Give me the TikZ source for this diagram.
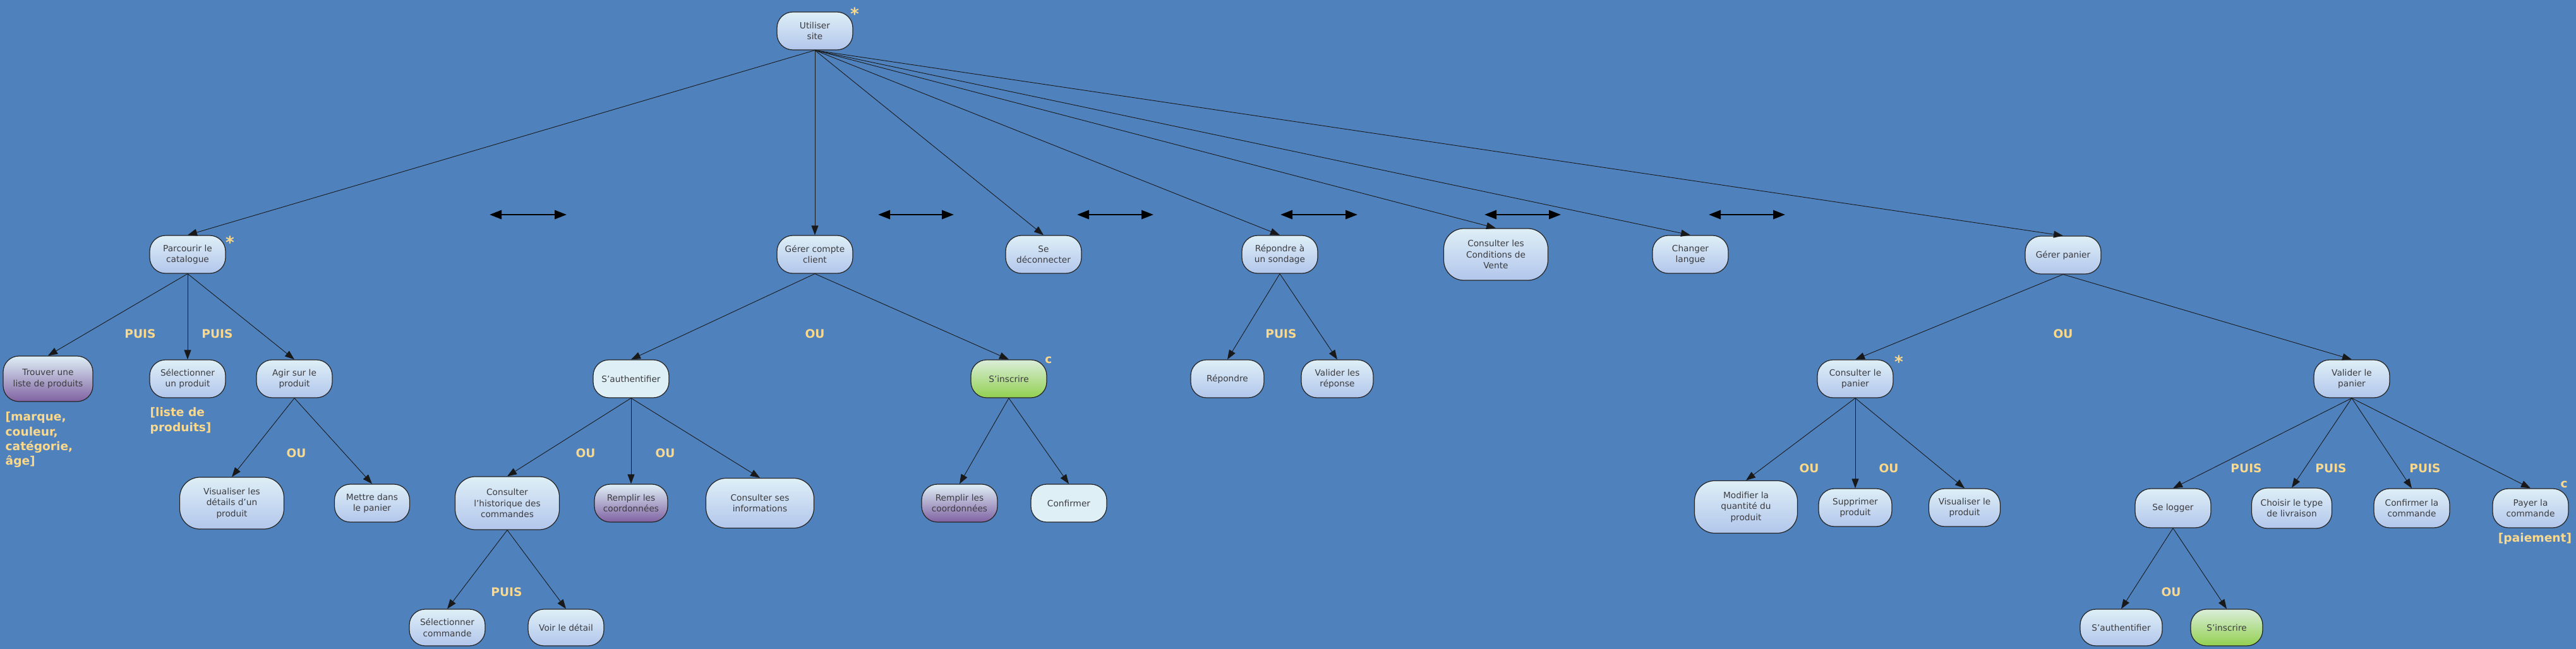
\documentclass[tikz,border=0pt]{standalone}
\usepackage{fontspec}
\setmainfont{DejaVu Sans}
\usetikzlibrary{arrows.meta}

\definecolor{fond}{RGB}{79,129,189}
\definecolor{jaune}{RGB}{250,216,140}
\definecolor{texte}{RGB}{60,60,64}
\definecolor{haut}{RGB}{222,239,246}
\definecolor{bas}{RGB}{178,198,236}
\definecolor{mauve}{RGB}{128,98,162}
\definecolor{hautvert}{RGB}{218,238,218}
\definecolor{basvert}{RGB}{146,208,80}

\tikzset{
  etape/.style={draw=black!85, line width=0.35pt, rounded corners=0.25cm,
    minimum width=1.2cm, minimum height=0.6cm, inner sep=1pt, align=center,
    text=texte, font=\fontsize{3.9}{4.9}\selectfont,
    top color=haut, bottom color=bas},
  grande/.style={minimum width=1.65cm, minimum height=0.82cm, rounded corners=0.32cm},
  violette/.style={top color=haut, bottom color=mauve},
  verte/.style={top color=hautvert, bottom color=basvert},
  claire/.style={top color=haut, bottom color=haut},
  lien/.style={text=jaune, inner sep=0pt, font=\fontsize{5.3}{6.6}\selectfont\bfseries},
  marque/.style={text=jaune, inner sep=0pt, font=\fontsize{7.5}{8}\selectfont\bfseries},
  fleche/.style={->, line width=0.25pt, draw=black!90},
  seq/.style={<->, line width=0.8pt, >={Triangle[length=0.19cm,width=0.14cm]}},
}

\begin{document}
\begin{tikzpicture}[>={Triangle[length=0.15cm,width=0.11cm]}]
  \fill[fond] (0,0) rectangle (40.78,-10.28);
  \useasboundingbox (0,0) rectangle (40.78,-10.28);

  \node[etape] (site) at (12.90,-0.49) {Utiliser\\site};

  \node[etape] (parc) at (2.97,-4.03) {Parcourir le\\catalogue};
  \node[etape] (compte) at (12.90,-4.03) {Gérer compte\\client};
  \node[etape] (deco) at (16.52,-4.03) {Se\\déconnecter};
  \node[etape] (sondage) at (20.26,-4.03) {Répondre à\\un sondage};
  \node[etape,grande] (cgv) at (23.68,-4.03) {Consulter les\\Conditions de\\Vente};
  \node[etape] (langue) at (26.76,-4.03) {Changer\\langue};
  \node[etape] (panier) at (32.66,-4.04) {Gérer panier};

  \node[etape,violette,minimum width=1.42cm,minimum height=0.72cm] (trouver) at (0.76,-6.00) {Trouver une\\liste de produits};
  \node[etape] (selprod) at (2.97,-6.00) {Sélectionner\\un produit};
  \node[etape] (agir) at (4.66,-6.00) {Agir sur le\\produit};
  \node[etape,claire] (auth) at (9.99,-6.00) {S'authentifier};
  \node[etape,verte] (inscr) at (15.97,-6.00) {S'inscrire};
  \node[etape,minimum width=1.16cm] (repondre) at (19.43,-6.00) {Répondre};
  \node[etape,minimum width=1.14cm] (valider) at (21.17,-6.00) {Valider les\\réponse};
  \node[etape] (conspanier) at (29.37,-6.00) {Consulter le\\panier};
  \node[etape] (valpanier) at (37.23,-6.00) {Valider le\\panier};

  \node[etape,grande] (visdet) at (3.67,-7.97) {Visualiser les\\détails d'un\\produit};
  \node[etape,minimum width=1.19cm] (mettre) at (5.89,-7.97) {Mettre dans\\le panier};
  \node[etape,grande,minimum height=0.84cm] (histo) at (8.03,-7.97) {Consulter\\l'historique des\\commandes};
  \node[etape,violette,minimum width=1.16cm] (remplira) at (9.99,-7.97) {Remplir les\\coordonnées};
  \node[etape,grande,minimum width=1.71cm,minimum height=0.79cm] (infos) at (12.03,-7.97) {Consulter ses\\informations};
  \node[etape,violette] (remplirb) at (15.19,-7.97) {Remplir les\\coordonnées};
  \node[etape,claire] (confirmer) at (16.92,-7.97) {Confirmer};
  \node[etape,grande,minimum width=1.63cm,minimum height=0.83cm] (modifier) at (27.64,-8.03) {Modifier la\\quantité du\\produit};
  \node[etape,minimum width=1.16cm] (suppr) at (29.37,-8.04) {Supprimer\\produit};
  \node[etape,minimum width=1.13cm] (visprod) at (31.10,-8.04) {Visualiser le\\produit};
  \node[etape,minimum height=0.62cm] (logger) at (34.40,-8.05) {Se logger};
  \node[etape,minimum width=1.27cm,minimum height=0.64cm] (livraison) at (36.28,-8.05) {Choisir le type\\de livraison};
  \node[etape,minimum height=0.62cm] (confcmd) at (38.18,-8.05) {Confirmer la\\commande};
  \node[etape,minimum height=0.62cm] (payer) at (40.06,-8.05) {Payer la\\commande};

  \node[etape,minimum height=0.58cm] (selcmd) at (7.08,-9.94) {Sélectionner\\commande};
  \node[etape,minimum height=0.58cm] (voir) at (8.96,-9.94) {Voir le détail};
  \node[etape,minimum width=1.30cm,minimum height=0.58cm] (authb) at (33.58,-9.94) {S'authentifier};
  \node[etape,verte,minimum width=1.14cm,minimum height=0.58cm] (inscrb) at (35.25,-9.94) {S'inscrire};

  \foreach \p/\e in {site/parc,site/compte,site/deco,site/sondage,site/cgv,site/langue,site/panier,
      parc/trouver,parc/selprod,parc/agir,agir/visdet,agir/mettre,
      compte/auth,compte/inscr,auth/histo,auth/remplira,auth/infos,histo/selcmd,histo/voir,
      inscr/remplirb,inscr/confirmer,sondage/repondre,sondage/valider,
      panier/conspanier,panier/valpanier,conspanier/modifier,conspanier/suppr,conspanier/visprod,
      valpanier/logger,valpanier/livraison,valpanier/confcmd,valpanier/payer,
      logger/authb,logger/inscrb}
    \draw[fleche] (\p.south) -- (\e.north);

  \foreach \i/\xa/\xb in {1/7.75/8.97,2/13.90/15.10,3/17.05/18.26,4/20.27/21.49,5/23.50/24.71,6/27.05/28.26} {
    \coordinate (seqg\i) at (\xa,-3.40);
    \coordinate (seqd\i) at (\xb,-3.40);
    \draw[seq] (seqg\i) -- (seqd\i);
  }

  \foreach \n/\x/\y/\t in {pa/2.22/5.29/PUIS,pb/3.44/5.29/PUIS,oa/12.90/5.29/OU,pc/20.28/5.29/PUIS,ob/32.66/5.29/OU,
      oc/4.69/7.18/OU,od/9.27/7.18/OU,oe/10.53/7.18/OU,of/28.64/7.42/OU,og/29.90/7.42/OU,
      pd/35.56/7.42/PUIS,pe/36.90/7.42/PUIS,pf/38.39/7.42/PUIS,pg/8.02/9.38/PUIS,oh/34.37/9.38/OU}
    \node[lien] (l\n) at (\x,-\y) {\t};

  \node[marque] (etoilea) at (13.53,-0.22) {*};
  \node[marque] (etoileb) at (3.64,-3.84) {*};
  \node[marque] (etoilec) at (30.06,-5.73) {*};
  \node[lien] (conda) at (16.60,-5.70) {c};
  \node[lien] (condb) at (40.59,-7.67) {c};

  \node[lien,anchor=north west,align=left] (criteres) at (0.08,-6.52) {[marque,\\couleur,\\catégorie,\\âge]};
  \node[lien,anchor=north west,align=left] (liste) at (2.37,-6.45) {[liste de\\produits]};
  \node[lien] (paiement) at (40.13,-8.53) {[paiement]};
\end{tikzpicture}
\end{document}
